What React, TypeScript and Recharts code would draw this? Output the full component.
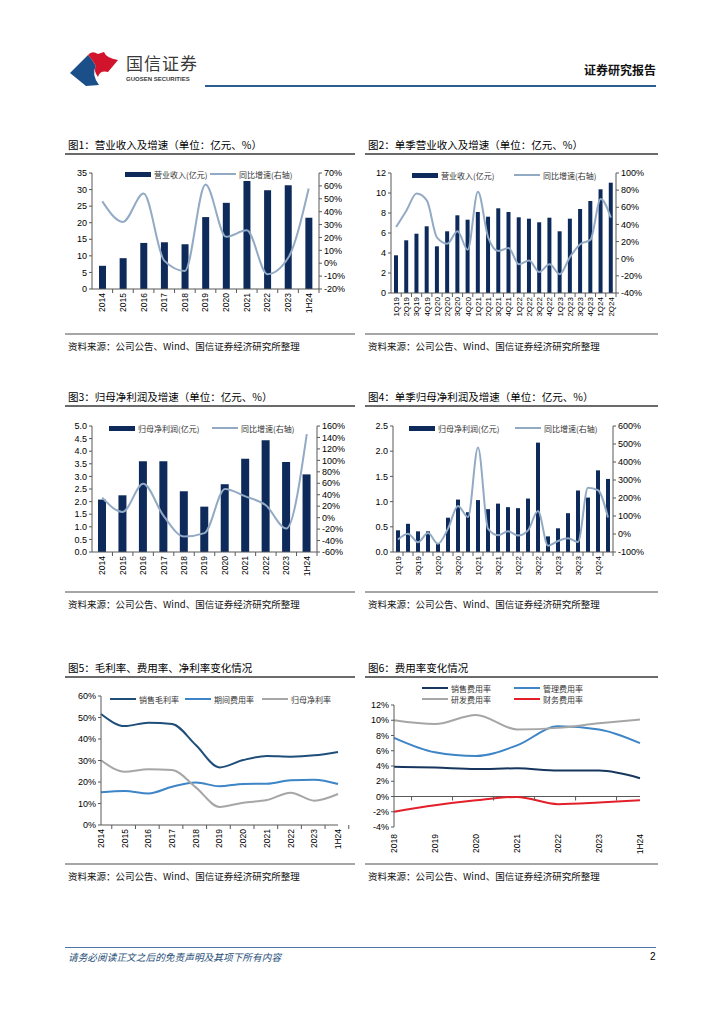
import React from 'react';
import { ComposedChart, Bar, Line, XAxis, YAxis, ReferenceLine } from 'recharts';

const years = ['2014', '2015', '2016', '2017', '2018', '2019', '2020', '2021', '2022', '2023', '1H24'];
const revenue = [7.0, 9.3, 13.9, 14.1, 13.5, 21.7, 26.0, 32.6, 29.8, 31.3, 21.5];
const revenueYoy = [48, 32, 54, 2, -6, 61, 20.5, 25.5, -8.5, 4, 58];

const quarters = [
  '1Q19', '2Q19', '3Q19', '4Q19', '1Q20', '2Q20', '3Q20', '4Q20', '1Q21', '2Q21', '3Q21',
  '4Q21', '1Q22', '2Q22', '3Q22', '4Q22', '1Q23', '2Q23', '3Q23', '4Q23', '1Q24', '2Q24',
];
const qRevenue = [3.77, 5.27, 5.93, 6.67, 4.67, 6.17, 7.77, 7.33, 8.1, 7.63, 8.47, 8.1, 7.57, 7.43, 7.07, 7.53, 6.17, 7.43, 8.4, 9.2, 10.37, 11.03];
const qRevenueYoy = [37, 56, 76, 68, 24.5, 17.5, 32, 10.5, 78, 25, 9, 12.4, -6.6, -2, -15.5, -6.6, -18, 2, 17, 22, 69.6, 48];

const netProfit = [2.08, 2.25, 3.6, 3.6, 2.41, 1.8, 2.69, 3.7, 4.43, 3.57, 3.08];
const netProfitYoy = [35, 10, 59, 3, -33, -27, 50, 37, 21.5, -19, 146];

const qNetProfit = [0.43, 0.56, 0.41, 0.41, 0.17, 0.68, 1.04, 0.79, 1.03, 0.85, 0.96, 0.89, 0.87, 1.06, 2.17, 0.31, 0.47, 0.77, 1.22, 1.08, 1.62, 1.45];
const qNetProfitYoy = [-30, 2, -46, 5, -54, 30, 155, 94, 480, 30, -7, 15, -9, 20, 128, -65, -39, -24, -44, 257, 243, 91];

const grossMargin = [51.6, 46, 47.6, 47, 37.2, 26.8, 30.2, 32.1, 31.8, 32.4, 34];
const periodExpenseRate = [15.2, 15.8, 14.7, 17.8, 19.8, 18, 19.1, 19.2, 20.8, 21.1, 19.1];
const netMargin = [30.1, 24.8, 25.9, 25.6, 17.5, 8.4, 10.4, 11.6, 15, 11.3, 14.4];

const feeYears = ['2018', '2019', '2020', '2021', '2022', '2023', '1H24'];
const sellingRate = [3.9, 3.8, 3.6, 3.7, 3.4, 3.4, 2.4];
const adminRate = [7.7, 5.8, 5.3, 6.7, 9.2, 8.8, 7.0];
const rdRate = [10, 9.5, 10.7, 8.8, 9.0, 9.6, 10.1];
const financeRate = [-2.0, -1.15, -0.5, -0.05, -1.0, -0.8, -0.5];

const ticks1L = [0, 5, 10, 15, 20, 25, 30, 35];
const ticks1R = [-20, -10, 0, 10, 20, 30, 40, 50, 60, 70];
const ticks2L = [0, 2, 4, 6, 8, 10, 12];
const ticks2R = [-40, -20, 0, 20, 40, 60, 80, 100];
const ticks3L = [0, 0.5, 1, 1.5, 2, 2.5, 3, 3.5, 4, 4.5, 5];
const ticks3R = [-60, -40, -20, 0, 20, 40, 60, 80, 100, 120, 140, 160];
const ticks4L = [0, 0.5, 1, 1.5, 2, 2.5];
const ticks4R = [-100, 0, 100, 200, 300, 400, 500, 600];
const ticks5 = [0, 10, 20, 30, 40, 50, 60];
const ticks6 = [-4, -2, 0, 2, 4, 6, 8, 10, 12];

const NAVY = '#0d2a5a';
const YOY = '#93aac4';
const AXIS = '#595959';
const NUM = '"Liberation Sans", Arial, sans-serif';
const CJK = '"Noto Sans CJK SC", "Noto Sans", sans-serif';
const SRC = '资料来源：公司公告、Wind、国信证券经济研究所整理';

const pct = (v: number) => `${v}%`;
const oneDec = (v: number) => v.toFixed(1);

const CatTick = (props: any) => {
  const { x, y, payload, half, fontSize, every = 1, markShift = 0 } = props;
  const ay = y - 3 - markShift;
  return (
    <g>
      <line x1={x + half} x2={x + half} y1={ay} y2={ay + 4} stroke={AXIS} strokeWidth={1} />
      {payload.index % every === 0 && (
        <text
          x={x}
          y={y + 1}
          transform={`rotate(-90 ${x} ${y + 1})`}
          textAnchor="end"
          dy="0.35em"
          fontSize={fontSize}
          fontFamily={NUM}
          fill="#000"
        >
          {payload.value}
        </text>
      )}
    </g>
  );
};

type Mark = { label: string; color: string; kind: 'bar' | 'line'; x: number; y: number };

const LegendMarks = ({ items }: { items: Mark[] }) => (
  <>
    {items.map((it) => (
      <div
        key={it.label + it.x + it.y}
        style={{ position: 'absolute', left: it.x, top: it.y - 6, height: 12, display: 'flex', alignItems: 'center' }}
      >
        <span
          style={{
            display: 'inline-block',
            width: 26,
            height: it.kind === 'bar' ? 5 : 2,
            background: it.color,
            marginRight: 3,
          }}
        />
        <span style={{ fontSize: 8, color: '#333', fontFamily: CJK, whiteSpace: 'nowrap' }}>{it.label}</span>
      </div>
    ))}
  </>
);

const Panel = ({ x, w, titleY, sourceY, title }: { x: number; w: number; titleY: number; sourceY: number; title: string }) => (
  <>
    <div style={{ position: 'absolute', left: x + 3, top: titleY - 8, fontSize: 10.5, lineHeight: '16px', fontFamily: CJK, color: '#000', whiteSpace: 'nowrap' }}>
      {title}
    </div>
    <div style={{ position: 'absolute', left: x, top: titleY + 8, width: w, height: 1.5, background: '#6b6b6b' }} />
    <div style={{ position: 'absolute', left: x, top: sourceY, width: w, height: 2, background: '#a6a6a6' }} />
    <div style={{ position: 'absolute', left: x + 3, top: sourceY + 6, fontSize: 9.5, lineHeight: '14px', fontFamily: CJK, color: '#111', whiteSpace: 'nowrap' }}>
      {SRC}
    </div>
  </>
);

type BarLineProps = {
  cats: string[];
  bars: number[];
  yoy: number[];
  left: number;
  top: number;
  width: number;
  height: number;
  margin: { top: number; right: number; left: number; bottom: number };
  leftW: number;
  rightW: number;
  xH: number;
  lTicks: number[];
  rTicks: number[];
  lFmt?: (v: number) => string;
  barSize: number;
  xFont: number;
  every?: number;
};

const BarLineChart = (p: BarLineProps) => {
  const data = p.cats.map((c, i) => ({ name: c, bar: p.bars[i], yoy: p.yoy[i] }));
  const plotW = p.width - p.margin.left - p.margin.right - p.leftW - p.rightW;
  const half = plotW / p.cats.length / 2;
  const tickStyle = { fontSize: 9, fill: '#000', fontFamily: NUM };
  return (
    <div style={{ position: 'absolute', left: p.left, top: p.top }}>
      <ComposedChart width={p.width} height={p.height} data={data} margin={p.margin}>
        <XAxis
          dataKey="name"
          interval={0}
          height={p.xH}
          tickLine={false}
          tickSize={0}
          tickMargin={3}
          axisLine={{ stroke: AXIS }}
          tick={(tp: any) => <CatTick {...tp} half={half} fontSize={p.xFont} every={p.every || 1} />}
        />
        <YAxis
          yAxisId="l"
          width={p.leftW}
          domain={[p.lTicks[0], p.lTicks[p.lTicks.length - 1]]}
          ticks={p.lTicks}
          tickFormatter={p.lFmt}
          tickSize={3}
          tickMargin={2}
          interval={0}
          axisLine={{ stroke: AXIS }}
          tickLine={{ stroke: AXIS }}
          tick={tickStyle}
        />
        <YAxis
          yAxisId="r"
          orientation="right"
          width={p.rightW}
          domain={[p.rTicks[0], p.rTicks[p.rTicks.length - 1]]}
          ticks={p.rTicks}
          tickFormatter={pct}
          tickSize={3}
          tickMargin={2}
          interval={0}
          axisLine={{ stroke: AXIS }}
          tickLine={{ stroke: AXIS }}
          tick={tickStyle}
        />
        <Bar yAxisId="l" dataKey="bar" fill={NAVY} barSize={p.barSize} isAnimationActive={false} />
        <Line yAxisId="r" dataKey="yoy" type="monotone" stroke={YOY} strokeWidth={2} dot={false} isAnimationActive={false} />
      </ComposedChart>
    </div>
  );
};

const MarginChart = () => {
  const data = years.map((c, i) => ({ name: c, gm: grossMargin[i], pe: periodExpenseRate[i], nm: netMargin[i] }));
  const width = 290;
  const margin = { top: 13, right: 12, left: 0, bottom: 1 };
  const yW = 41;
  const half = (width - margin.left - margin.right - yW) / years.length / 2;
  return (
    <div style={{ position: 'absolute', left: 60, top: 683 }}>
      <ComposedChart width={width} height={170} data={data} margin={margin}>
        <XAxis
          dataKey="name"
          interval={0}
          height={27}
          tickLine={false}
          tickSize={0}
          tickMargin={3}
          axisLine={{ stroke: AXIS }}
          tick={(tp: any) => <CatTick {...tp} half={half} fontSize={8.5} />}
        />
        <YAxis
          width={yW}
          domain={[0, 60]}
          ticks={ticks5}
          tickFormatter={pct}
          tickSize={3}
          tickMargin={2}
          interval={0}
          axisLine={{ stroke: AXIS }}
          tickLine={{ stroke: AXIS }}
          tick={{ fontSize: 9, fill: '#000', fontFamily: NUM }}
        />
        <Line dataKey="gm" type="monotone" stroke="#1f4e79" strokeWidth={2} dot={false} isAnimationActive={false} />
        <Line dataKey="pe" type="monotone" stroke="#3d85c6" strokeWidth={2} dot={false} isAnimationActive={false} />
        <Line dataKey="nm" type="monotone" stroke="#a6a6a6" strokeWidth={2} dot={false} isAnimationActive={false} />
      </ComposedChart>
    </div>
  );
};

const FeeChart = () => {
  const data = feeYears.map((c, i) => ({ name: c, s: sellingRate[i], a: adminRate[i], r: rdRate[i], f: financeRate[i] }));
  const width = 290;
  const height = 170;
  const margin = { top: 13, right: 10, left: 0, bottom: 5 };
  const yW = 34;
  const xH = 30;
  const plotH = height - margin.top - margin.bottom - xH;
  const half = (width - margin.left - margin.right - yW) / feeYears.length / 2;
  const zeroShift = plotH * (0 - ticks6[0]) / (ticks6[ticks6.length - 1] - ticks6[0]);
  return (
    <div style={{ position: 'absolute', left: 360, top: 692 }}>
      <ComposedChart width={width} height={height} data={data} margin={margin}>
        <XAxis
          dataKey="name"
          interval={0}
          height={xH}
          tickLine={false}
          tickSize={0}
          tickMargin={6}
          axisLine={false}
          tick={(tp: any) => <CatTick {...tp} half={half} fontSize={8.5} markShift={zeroShift + 3} />}
        />
        <YAxis
          width={yW}
          domain={[ticks6[0], ticks6[ticks6.length - 1]]}
          ticks={ticks6}
          tickFormatter={pct}
          tickSize={3}
          tickMargin={2}
          interval={0}
          axisLine={{ stroke: AXIS }}
          tickLine={{ stroke: AXIS }}
          tick={{ fontSize: 9, fill: '#000', fontFamily: NUM }}
        />
        <ReferenceLine y={0} stroke={AXIS} strokeWidth={1} />
        <Line dataKey="s" type="monotone" stroke="#17365d" strokeWidth={2} dot={false} isAnimationActive={false} />
        <Line dataKey="a" type="monotone" stroke="#3d85c6" strokeWidth={2} dot={false} isAnimationActive={false} />
        <Line dataKey="r" type="monotone" stroke="#a6a6a6" strokeWidth={2} dot={false} isAnimationActive={false} />
        <Line dataKey="f" type="monotone" stroke="#e3202a" strokeWidth={2} dot={false} isAnimationActive={false} />
      </ComposedChart>
    </div>
  );
};

const Logo = () => (
  <svg width={60} height={40} style={{ position: 'absolute', left: 66, top: 49 }} viewBox="0 0 60 40">
    <path d="M4 24 L22 6 Q27 11 30 17 Q25 25 33 36 L20 37 Z" fill="#1b4f8a" />
    <path d="M22 6 Q26 1 32 5 L38 3 Q40 9 52 11 L42 23 Q34 21 32 28 Q27 21 30 17 Q27 11 22 6 Z" fill="#d2132c" />
  </svg>
);

export default function App() {
  return (
    <div style={{ position: 'absolute', left: 0, top: 0, width: 724, height: 1024, background: '#fff', overflow: 'hidden' }}>
      <Logo />
      <div style={{ position: 'absolute', left: 126, top: 53, fontSize: 17, lineHeight: '20px', fontFamily: CJK, color: '#3a3a3a', letterSpacing: 1 }}>国信证券</div>
      <div style={{ position: 'absolute', left: 126, top: 75, fontSize: 6, lineHeight: '8px', fontFamily: NUM, fontWeight: 700, color: '#3a3a3a' }}>GUOSEN SECURITIES</div>
      <div style={{ position: 'absolute', right: 68, top: 62, fontSize: 12, lineHeight: '16px', fontFamily: CJK, fontWeight: 700, color: '#111' }}>证券研究报告</div>
      <div style={{ position: 'absolute', left: 205, top: 85, width: 451, height: 2, background: '#2b5e91' }} />

      <Panel x={65} w={290} titleY={145} sourceY={333} title="图1：营业收入及增速（单位：亿元、%）" />
      <Panel x={365} w={293} titleY={145} sourceY={333} title="图2：单季营业收入及增速（单位：亿元、%）" />
      <Panel x={65} w={290} titleY={397} sourceY={591} title="图3：归母净利润及增速（单位：亿元、%）" />
      <Panel x={365} w={293} titleY={397} sourceY={591} title="图4：单季归母净利润及增速（单位：亿元、%）" />
      <Panel x={65} w={290} titleY={668} sourceY={863} title="图5：毛利率、费用率、净利率变化情况" />
      <Panel x={365} w={293} titleY={668} sourceY={863} title="图6：费用率变化情况" />

      <BarLineChart
        cats={years} bars={revenue} yoy={revenueYoy}
        left={60} top={160} width={300} height={160}
        margin={{ top: 13, right: 1, left: 0, bottom: 1 }}
        leftW={32} rightW={40} xH={30}
        lTicks={ticks1L} rTicks={ticks1R}
        barSize={7} xFont={8.5}
      />
      <LegendMarks items={[
        { label: '营业收入(亿元)', color: NAVY, kind: 'bar', x: 125, y: 174 },
        { label: '同比增速(右轴)', color: YOY, kind: 'line', x: 210, y: 174 },
      ]} />

      <BarLineChart
        cats={quarters} bars={qRevenue} yoy={qRevenueYoy}
        left={360} top={160} width={300} height={160}
        margin={{ top: 13, right: 4, left: 0, bottom: 1 }}
        leftW={31} rightW={40} xH={26}
        lTicks={ticks2L} rTicks={ticks2R}
        barSize={4} xFont={8}
      />
      <LegendMarks items={[
        { label: '营业收入(亿元)', color: NAVY, kind: 'bar', x: 412, y: 175 },
        { label: '同比增速(右轴)', color: YOY, kind: 'line', x: 514, y: 175 },
      ]} />

      <BarLineChart
        cats={years} bars={netProfit} yoy={netProfitYoy}
        left={60} top={413} width={300} height={165}
        margin={{ top: 13, right: 3, left: 0, bottom: 1 }}
        leftW={32} rightW={40} xH={25}
        lTicks={ticks3L} rTicks={ticks3R} lFmt={oneDec}
        barSize={8} xFont={8.5}
      />
      <LegendMarks items={[
        { label: '归母净利润(亿元)', color: NAVY, kind: 'bar', x: 109, y: 428 },
        { label: '同比增速(右轴)', color: YOY, kind: 'line', x: 212, y: 428 },
      ]} />

      <BarLineChart
        cats={quarters} bars={qNetProfit} yoy={qNetProfitYoy}
        left={360} top={413} width={300} height={165}
        margin={{ top: 13, right: 3, left: 0, bottom: 1 }}
        leftW={33} rightW={44} xH={25}
        lTicks={ticks4L} rTicks={ticks4R} lFmt={oneDec}
        barSize={4} xFont={8} every={2}
      />
      <LegendMarks items={[
        { label: '归母净利润(亿元)', color: NAVY, kind: 'bar', x: 409, y: 428 },
        { label: '同比增速(右轴)', color: YOY, kind: 'line', x: 515, y: 428 },
      ]} />

      <MarginChart />
      <LegendMarks items={[
        { label: '销售毛利率', color: '#1f4e79', kind: 'line', x: 110, y: 699 },
        { label: '期间费用率', color: '#3d85c6', kind: 'line', x: 185, y: 699 },
        { label: '归母净利率', color: '#a6a6a6', kind: 'line', x: 262, y: 699 },
      ]} />

      <FeeChart />
      <LegendMarks items={[
        { label: '销售费用率', color: '#17365d', kind: 'line', x: 422, y: 688 },
        { label: '管理费用率', color: '#3d85c6', kind: 'line', x: 514, y: 688 },
        { label: '研发费用率', color: '#a6a6a6', kind: 'line', x: 422, y: 699 },
        { label: '财务费用率', color: '#e3202a', kind: 'line', x: 514, y: 699 },
      ]} />

      <div style={{ position: 'absolute', left: 65, top: 947, width: 591, height: 1, background: '#4a78ab' }} />
      <div style={{ position: 'absolute', left: 68, top: 950, fontSize: 9.7, lineHeight: '14px', fontFamily: CJK, fontStyle: 'italic', color: '#1f4e79' }}>
        请务必阅读正文之后的免责声明及其项下所有内容
      </div>
      <div style={{ position: 'absolute', left: 650, top: 950, fontSize: 10, lineHeight: '14px', fontFamily: NUM, color: '#000' }}>2</div>
    </div>
  );
}
